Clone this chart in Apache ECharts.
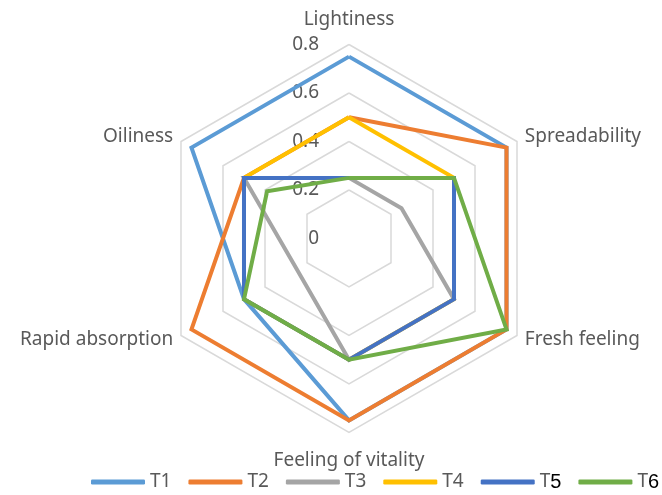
<!DOCTYPE html>
<html>
<head>
<meta charset="utf-8">
<script src="https://cdn.jsdelivr.net/npm/echarts@6/dist/echarts.min.js"></script>
<style>
  html, body { margin: 0; padding: 0; background: #fff; }
  #chart { width: 662px; height: 495px; }
</style>
</head>
<body>
<div id="chart"></div>
<script>
// indicators in echarts order (counter-clockwise from the top)
var indicators = ['Lightiness', 'Oiliness', 'Rapid absorption', 'Feeling of vitality', 'Fresh feeling', 'Spreadability']
var axisMin = 0
var axisMax = 0.8

var seriesNames = ['T1', 'T2', 'T3', 'T4', 'T5', 'T6']
var t1 = [0.75, 0.75, 0.5, 0.75, 0.75, 0.75]
var t2 = [0.5, 0.5, 0.75, 0.75, 0.75, 0.75]
var t3 = [0.25, 0.5, 0.25, 0.5, 0.5, 0.25]
var t4 = [0.5, 0.5, 0.5, 0.5, 0.5, 0.5]
var t5 = [0.25, 0.5, 0.5, 0.5, 0.5, 0.5]
var t6 = [0.25, 0.39, 0.5, 0.5, 0.75, 0.5]
var seriesValues = [t1, t2, t3, t4, t5, t6]

var colors = ['#5b9bd5', '#ed7d31', '#a5a5a5', '#ffc000', '#4472c4', '#70ad47']

var myChart = echarts.init(document.getElementById('chart'))

var series = seriesNames.map(function (name, i) {
  return {
    name: name,
    type: 'radar',
    symbol: 'none',
    lineStyle: { width: 4, color: colors[i], join: 'miter' },
    itemStyle: { color: colors[i] },
    data: [{ name: name, value: seriesValues[i] }]
  }
})

var option = {
  animation: false,
  color: colors,
  radar: {
    center: [349, 238.5],
    radius: 194,
    startAngle: 90,
    shape: 'polygon',
    splitNumber: 4,
    nameGap: 9,
    axisName: {
      color: '#595959',
      fontSize: 19,
      fontFamily: 'Noto Sans',
      padding: [10, 0, 6, 0]
    },
    indicator: indicators.map(function (n, i) {
      var ind = { name: n, min: axisMin, max: axisMax }
      if (i === 0) {
        ind.axisLabel = {
          show: true,
          margin: 30,
          color: '#595959',
          fontSize: 19,
          fontFamily: 'Noto Sans'
        }
      }
      return ind
    }),
    splitLine: { lineStyle: { color: '#d9d9d9', width: 1.5 } },
    splitArea: { show: false },
    axisLine: { show: false },
    axisTick: { show: false },
    axisLabel: { show: false }
  },
  legend: {
    top: 472,
    left: 91,
    width: 571,
    padding: 0,
    icon: 'roundRect',
    itemWidth: 54,
    itemHeight: 5,
    itemGap: 17,
    data: seriesNames,
    formatter: function (name) {
      // the last two entries use a different font for the digit
      if (name === 'T5' || name === 'T6') return 'T{d|' + name.slice(1) + '}'
      return name
    },
    textStyle: {
      color: '#595959',
      fontSize: 19,
      fontFamily: 'Noto Sans',
      rich: {
        d: { color: '#000', fontSize: 20, fontFamily: 'Liberation Sans' }
      }
    }
  },
  series: series
}

myChart.setOption(option)
</script>
</body>
</html>
